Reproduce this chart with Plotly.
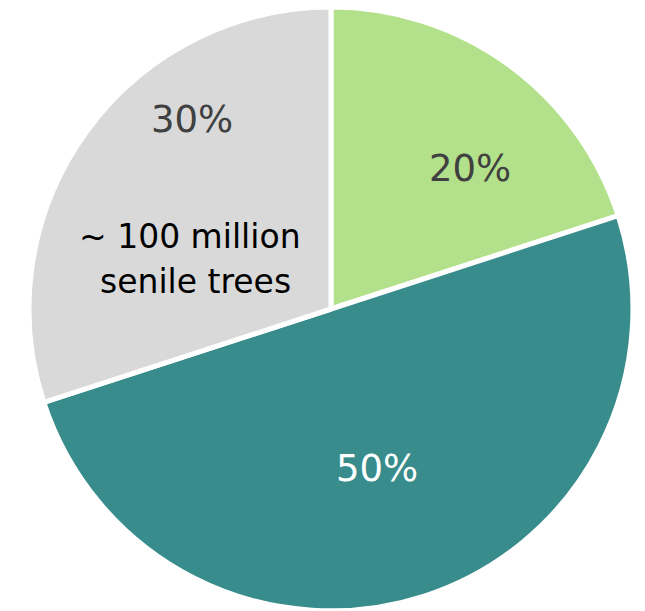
import plotly.graph_objects as go

# Share of trees by group
categories = ["Group A", "Group B", "Senile trees"]
shares = [20, 50, 30]
slice_colors = ["#B3E08A", "#388C8C", "#D9D9D9"]
label_colors = ["#404040", "#FFFFFF", "#404040"]
note_lines = ["~ 100 million", "senile trees"]

W, H = 645, 611

fig = go.Figure(
    go.Pie(
        labels=categories,
        values=shares,
        sort=False,
        direction="clockwise",
        rotation=0,
        marker=dict(colors=slice_colors, line=dict(color="white", width=5)),
        textinfo="none",
        hoverinfo="label+percent",
        showlegend=False,
        domain=dict(x=[26 / W, 636 / W], y=[0, 1 - 7 / H]),
    )
)

# percentage labels, placed inside each slice
label_pos = [(470, 168), (377, 468), (192, 120)]
for v, c, (px, py) in zip(shares, label_colors, label_pos):
    fig.add_annotation(
        x=px / W, y=1 - py / H, xref="paper", yref="paper",
        text=f"{v}%", showarrow=False,
        xanchor="center", yanchor="middle",
        font=dict(family="DejaVu Sans", size=37, color=c),
    )

note_pos = [(190, 236), (195, 281)]
for line, (px, py) in zip(note_lines, note_pos):
    fig.add_annotation(
        x=px / W, y=1 - py / H, xref="paper", yref="paper",
        text=line, showarrow=False,
        xanchor="center", yanchor="middle",
        font=dict(family="DejaVu Sans", size=33, color="#000000"),
    )

fig.update_layout(
    width=W, height=H,
    margin=dict(l=0, r=0, t=0, b=0),
    paper_bgcolor="white",
    plot_bgcolor="white",
)

fig.write_html("out.html")
